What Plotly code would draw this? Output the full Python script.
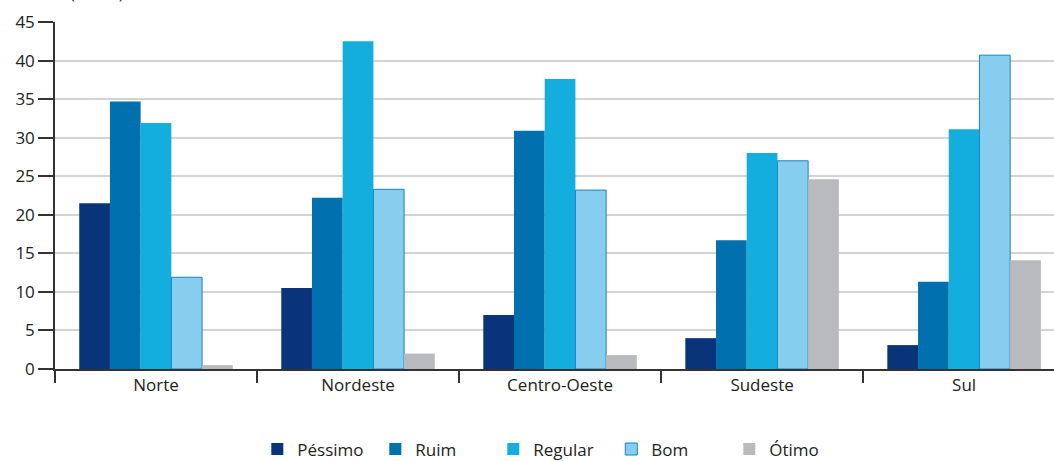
import plotly.graph_objects as go

regioes = ["Norte", "Nordeste", "Centro-Oeste", "Sudeste", "Sul"]

pessimo = [21.5, 10.5, 7.0, 4.0, 3.1]
ruim = [34.7, 22.2, 30.9, 16.7, 11.3]
regular = [31.9, 42.5, 37.6, 28.0, 31.1]
bom = [11.9, 23.3, 23.2, 27.0, 40.7]
otimo = [0.5, 2.0, 1.8, 24.6, 14.1]

series = [
    ("Péssimo", pessimo, "#0a347a", "#0a347a", 0),
    ("Ruim", ruim, "#0071ae", "#0071ae", 0),
    ("Regular", regular, "#13aedd", "#13aedd", 0),
    ("Bom", bom, "#87ceee", "#1a80c4", 1),
    ("Ótimo", otimo, "#b9babd", "#b9babd", 0),
]

fig = go.Figure()
for nome, valores, cor, borda, lw in series:
    fig.add_trace(go.Bar(
        name=nome, x=regioes, y=valores,
        marker=dict(color=cor, line=dict(color=borda, width=lw)),
    ))

font_family = "Open Sans, Noto Sans, sans-serif"

fig.update_layout(
    width=1054, height=461,
    margin=dict(l=55, r=0, t=22, b=92),
    paper_bgcolor="white", plot_bgcolor="white",
    barmode="group", bargap=0.24, bargroupgap=0,
    font=dict(family=font_family, size=17, color="#222222"),
    showlegend=True,
    legend=dict(
        orientation="h", xref="container", yref="container",
        x=0.524, xanchor="center", y=0.025, yanchor="middle",
        font=dict(size=17, color="#222222"), traceorder="normal",
        itemwidth=30, entrywidth=73, entrywidthmode="pixels",
    ),
)

fig.update_xaxes(
    range=[-0.5, 4.445],
    showline=True, linecolor="#333333", linewidth=1.5,
    ticks="outside", tickson="boundaries", ticklen=12, tickcolor="#333333", tickwidth=1.5,
    showgrid=False, tickfont=dict(size=17),
)
fig.update_yaxes(
    range=[0, 45], dtick=5,
    showline=True, linecolor="#333333", linewidth=1.5,
    ticks="outside", ticklen=15, tickcolor="#333333", tickwidth=1.5,
    showgrid=True, gridcolor="#d3d3d3", gridwidth=1.5,
    zeroline=False, tickfont=dict(size=17),
)

fig.add_annotation(
    text="(Em %)", xref="paper", yref="paper", x=0.013, y=1.0,
    yshift=16, xanchor="left", yanchor="bottom", showarrow=False,
    font=dict(size=17, color="#222222"),
)

fig.write_html("out.html")
